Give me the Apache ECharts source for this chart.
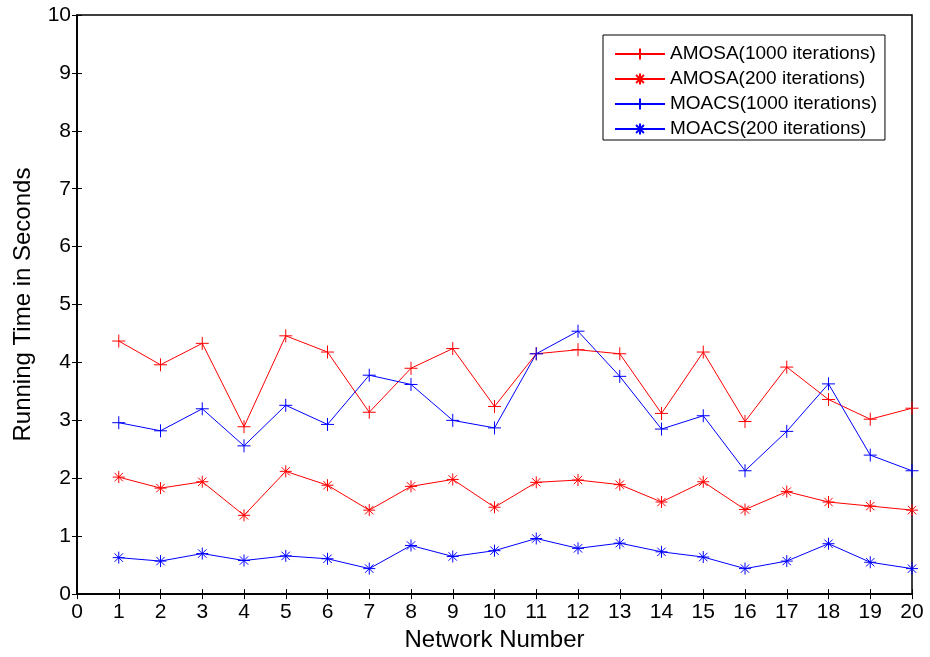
<!DOCTYPE html>
<html>
<head>
<meta charset="utf-8">
<script src="https://cdn.jsdelivr.net/npm/echarts@6/dist/echarts.min.js"></script>
<style>
html,body{margin:0;padding:0;background:#fff;}
#chart{width:930px;height:657px;}
</style>
</head>
<body>
<div id="chart"></div>
<script>
const networks = [1,2,3,4,5,6,7,8,9,10,11,12,13,14,15,16,17,18,19,20];
const amosa1000 = [4.37,3.96,4.33,2.89,4.46,4.18,3.14,3.90,4.24,3.24,4.15,4.22,4.15,3.12,4.18,2.98,3.92,3.36,3.02,3.21];
const amosa200  = [2.02,1.83,1.94,1.36,2.12,1.88,1.45,1.86,1.98,1.50,1.93,1.97,1.89,1.59,1.94,1.46,1.77,1.59,1.52,1.45];
const moacs1000 = [2.96,2.82,3.20,2.56,3.26,2.93,3.78,3.62,3.00,2.87,4.15,4.54,3.76,2.85,3.08,2.13,2.81,3.63,2.40,2.13];
const moacs200  = [0.63,0.57,0.70,0.58,0.66,0.61,0.44,0.84,0.65,0.75,0.96,0.79,0.88,0.73,0.64,0.44,0.57,0.87,0.55,0.44];
const seriesNames = ['AMOSA(1000 iterations)','AMOSA(200 iterations)','MOACS(1000 iterations)','MOACS(200 iterations)'];

const PLUS = 'path://M10,0L10,20M0,10L20,10';
const STAR = 'path://M10,0L10,20M0,10L20,10M3,3L17,17M3,17L17,3';
const FONT = '"Liberation Sans", Arial, sans-serif';

function mk(name, vals, color, symbol, size) {
  return {
    name: name,
    type: 'line',
    data: networks.map((n, i) => [n, vals[i]]),
    symbol: symbol,
    symbolSize: size,
    showAllSymbol: true,
    lineStyle: { color: color, width: 1 },
    itemStyle: { color: 'none', borderColor: color, borderWidth: 1 },
    emphasis: { disabled: true },
    animation: false
  };
}

const chart = echarts.init(document.getElementById('chart'), null, { renderer: 'canvas' });
const tickCommon = { show: true, inside: true, length: 5, lineStyle: { color: '#000', width: 1 } };
chart.setOption({
  animation: false,
  grid: { left: 77, right: 18, top: 15, bottom: 61, show: true, borderColor: '#000', borderWidth: 1.5, backgroundColor: '#fff' },
  legend: {
    orient: 'vertical',
    left: 603, top: 35,
    padding: [9, 8, 1, 11],
    itemWidth: 50, itemHeight: 14, itemGap: 5,
    backgroundColor: '#fff',
    borderColor: '#000', borderWidth: 1,
    textStyle: { fontFamily: FONT, fontSize: 19, color: '#000', lineHeight: 20 },
    data: seriesNames
  },
  xAxis: [{
    type: 'value', min: 0, max: 20, interval: 1,
    name: 'Network Number', nameLocation: 'middle', nameGap: 30,
    nameTextStyle: { fontFamily: FONT, fontSize: 24, color: '#000' },
    axisLine: { show: true, lineStyle: { color: '#000', width: 1.5 } },
    axisTick: tickCommon,
    axisLabel: { fontFamily: FONT, fontSize: 21, color: '#000', margin: 8 },
    splitLine: { show: false }
  }, {
    type: 'value', min: 0, max: 20, interval: 1, position: 'top',
    axisLine: { show: true, lineStyle: { color: '#000', width: 1.5 } },
    axisTick: tickCommon, axisLabel: { show: false }, splitLine: { show: false }
  }],
  yAxis: [{
    type: 'value', min: 0, max: 10, interval: 1,
    name: 'Running Time in Seconds', nameLocation: 'middle', nameGap: 42,
    nameTextStyle: { fontFamily: FONT, fontSize: 24, color: '#000' },
    axisLine: { show: true, lineStyle: { color: '#000', width: 1.5 } },
    axisTick: tickCommon,
    axisLabel: { fontFamily: FONT, fontSize: 21, color: '#000', margin: 6 },
    splitLine: { show: false }
  }, {
    type: 'value', min: 0, max: 10, interval: 1, position: 'right',
    axisLine: { show: true, lineStyle: { color: '#000', width: 1.5 } },
    axisTick: tickCommon, axisLabel: { show: false }, splitLine: { show: false }
  }],
  series: [
    mk(seriesNames[0], amosa1000, '#ff0000', PLUS, 13),
    mk(seriesNames[1], amosa200, '#ff0000', STAR, 12),
    mk(seriesNames[2], moacs1000, '#0000ff', PLUS, 13),
    mk(seriesNames[3], moacs200, '#0000ff', STAR, 12)
  ]
});
</script>
</body>
</html>
